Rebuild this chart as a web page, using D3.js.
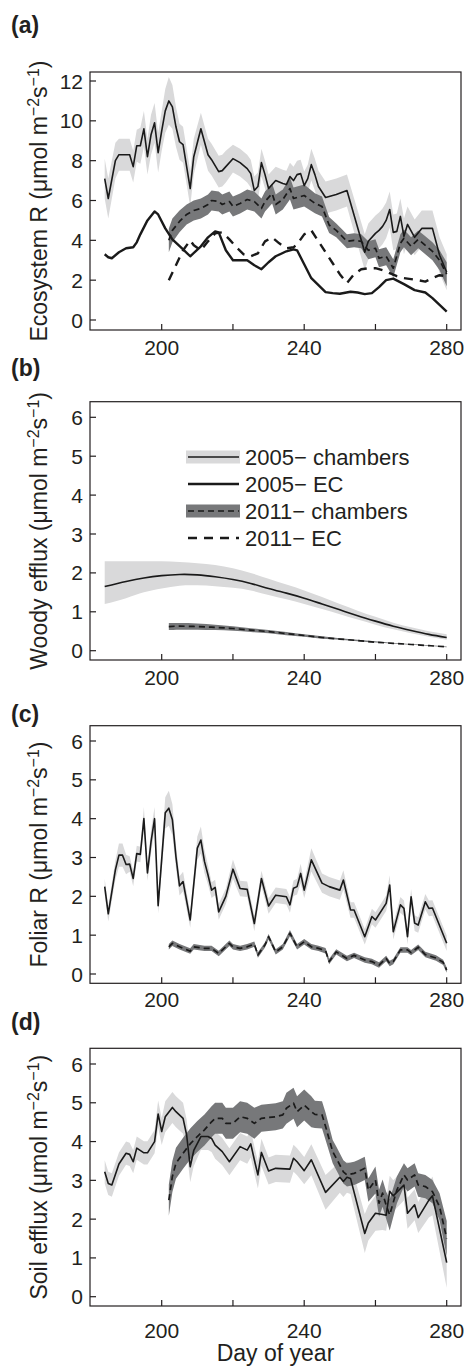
<!DOCTYPE html>
<html>
<head>
<script src="https://d3js.org/d3.v7.min.js"></script>
<style>
  body { margin: 0; background: #fff; }
  svg text { font-family: "Liberation Sans", Arial, Helvetica, sans-serif; fill: #231f20; }
</style>
</head>
<body>
<svg id="chart" width="467" height="1367"></svg>
<script>
// ---- data: [day, mean, half-width] or [day, mean, low, high] ----
const xTicks = [200, 220, 240, 260, 280];
const xTickLabels = ['200', '', '240', '', '280'];
const ecoTicks = [0, 2, 4, 6, 8, 10, 12];
const fluxTicks = [0, 1, 2, 3, 4, 5, 6];
const legendLabels = ['2005\u2212 chambers', '2005\u2212 EC', '2011\u2212 chambers', '2011\u2212 EC'];

// (a) ecosystem respiration
const ecoCh05 = [[184,7.1,1.0],[185,6.1,1.0],[187,8.0,0.9],[188,8.3,0.8],[189,8.3,0.8],[191,8.3,0.8],[192,7.7,0.8],
  [193,8.75,0.8],[194,8.75,0.9],[195,9.6,0.9],[196,8.2,0.9],[197,9.3,1.0],[198,9.9,1.0],[199,8.4,1.0],[200,9.5,1.0],
  [201,10.5,1.1],[202,11.0,1.2],[203,10.7,1.1],[204,9.7,1.0],[205,8.95,0.9],[206,8.8,0.9],[207,7.7,0.9],[208,6.6,0.9],
  [209,8.2,0.9],[211,9.6,0.8],[212,8.95,0.8],[213,8.3,0.8],[214,8.05,0.8],[216,7.45,0.8],[217,7.5,0.8],[218,7.7,0.8],
  [220,8.1,0.7],[221,8.0,0.7],[222,7.9,0.7],[224,7.6,0.7],[225,7.35,0.7],[226,6.5,0.7],[227,6.7,0.7],[228,7.9,0.7],
  [229,7.3,0.7],[230,6.6,0.7],[232,7.0,0.7],[234,6.85,0.7],[235,6.8,0.7],[236,7.2,0.7],[237,7.0,0.7],[238,7.3,0.7],
  [239,7.35,0.7],[240,6.75,0.7],[241,7.1,0.7],[242,7.8,0.8],[243,7.3,0.8],[244,6.7,0.8],[246,6.15,0.8],[249,6.3,0.8],
  [252,6.5,0.8],[257,3.4,0.9],[258,3.95,0.9],[260,4.35,0.9],[261,4.5,0.9],[262,4.7,0.9],[263,5.0,0.9],[264,5.55,0.9],
  [265,4.4,0.9],[266,4.45,0.9],[267,5.2,0.9],[268,4.2,0.9],[269,4.8,0.9],[271,4.15,0.9],[273,4.6,0.9],[276,4.6,0.9],
  [278,3.25,0.9],[280,2.4,0.9]];
const ecoEC05 = [[184,3.3],[185,3.15],[186,3.1],[188,3.4],[190,3.6],[192,3.65],[193,3.9],[194,4.3],[196,5.0],[198,5.45],
  [199,5.3],[201,4.6],[203,4.05],[206,3.55],[208,3.2],[211,3.7],[213,4.15],[215,4.45],[216,4.4],[218,3.5],[220,3.0],
  [224,3.0],[226,2.75],[228,2.55],[230,2.9],[232,3.2],[235,3.45],[237,3.55],[238,3.5],[240,2.8],[242,2.1],[244,1.75],
  [246,1.4],[248,1.35],[250,1.32],[253,1.42],[255,1.38],[257,1.3],[259,1.35],[261,1.65],[263,2.0],[265,2.08],[268,1.8],
  [271,1.5],[274,1.38],[276,1.1],[280,0.42]];
const ecoCh11 = [[202,4.0,0.6],[203,4.5,0.6],[205,4.95,0.55],[207,5.3,0.5],[209,5.5,0.5],[211,5.6,0.5],[213,5.8,0.5],
  [214,6.0,0.5],[216,5.95,0.5],[217,5.8,0.5],[219,5.95,0.5],[220,5.7,0.5],[222,5.85,0.5],[224,6.05,0.5],[226,5.95,0.5],
  [228,5.6,0.5],[229,5.95,0.5],[231,6.35,0.5],[232,5.8,0.5],[234,6.05,0.5],[236,6.6,0.55],[237,6.1,0.55],[240,6.25,0.55],
  [243,5.86,0.5],[245,5.7,0.5],[247,4.77,0.4],[249,4.5,0.35],[252,3.95,0.35],[254,4.0,0.35],[256,3.95,0.35],[258,3.5,0.45],
  [260,3.6,0.45],[261,3.1,0.45],[263,3.2,0.45],[265,2.6,0.45],[267,3.85,0.45],[268,4.1,0.45],[270,3.7,0.45],[272,4.05,0.45],
  [274,3.75,0.45],[276,3.45,0.45],[278,3.0,0.5],[280,2.3,0.6]];
const ecoEC11 = [[202,2.0],[204,2.75],[206,3.5],[208,4.0],[209,3.75],[211,3.5],[213,3.95],[215,4.35],[217,4.4],[219,4.05],
  [221,3.65],[223,3.3],[225,3.2],[227,3.35],[229,3.95],[231,4.15],[233,3.85],[235,3.6],[237,3.65],[238,3.8],[240,4.3],
  [242,4.5],[244,3.95],[246,3.4],[248,2.85],[250,2.3],[252,1.85],[254,2.3],[256,2.55],[258,2.6],[260,2.6],[262,2.5],
  [264,2.35],[266,2.2],[268,2.1],[270,2.05],[272,2.0],[274,1.93],[276,2.1],[278,2.25],[280,2.2]];

// (b) woody efflux (modelled, smooth)
const woodCh05 = [[184,1.65,1.2,2.3],[190,1.78,1.35,2.3],[195,1.87,1.5,2.3],[200,1.93,1.6,2.3],[205,1.96,1.67,2.28],
  [210,1.95,1.68,2.25],[215,1.9,1.66,2.2],[220,1.83,1.62,2.12],[225,1.73,1.55,2.0],[230,1.6,1.43,1.85],[235,1.48,1.32,1.7],
  [240,1.35,1.2,1.55],[245,1.2,1.07,1.38],[250,1.05,0.94,1.2],[255,0.9,0.8,1.03],[260,0.76,0.67,0.87],[265,0.63,0.55,0.72],
  [270,0.52,0.45,0.6],[275,0.42,0.36,0.5],[280,0.34,0.28,0.42]];
const woodCh11 = [[202,0.62,0.53,0.71],[205,0.63,0.54,0.71],[210,0.62,0.54,0.7],[215,0.6,0.53,0.67],[220,0.57,0.51,0.63],
  [225,0.53,0.48,0.58],[230,0.49,0.45,0.53],[235,0.44,0.4,0.48],[240,0.39,0.36,0.42],[245,0.34,0.31,0.37],[250,0.3,0.28,0.32],
  [255,0.26,0.24,0.28],[260,0.22,0.21,0.24],[265,0.19,0.18,0.2],[270,0.16,0.15,0.17],[275,0.13,0.12,0.14],[280,0.1,0.09,0.11]];

// (c) foliar respiration
const folCh05 = [[184,2.25,0.2],[185,1.55,0.2],[187,2.68,0.25],[188,3.06,0.3],[189,3.06,0.3],[190,2.82,0.25],[191,2.83,0.2],
  [192,2.46,0.2],[193,3.1,0.2],[194,3.08,0.2],[195,4.0,0.3],[196,2.6,0.2],[197,3.4,0.3],[198,4.0,0.3],[199,1.76,0.2],
  [201,4.15,0.4],[202,4.27,0.45],[203,3.97,0.4],[204,3.02,0.3],[205,2.27,0.25],[206,2.38,0.25],[208,1.39,0.2],[210,3.24,0.3],
  [211,3.45,0.35],[212,2.9,0.3],[213,2.55,0.25],[214,2.16,0.2],[215,2.23,0.2],[216,1.6,0.2],[218,2.0,0.2],[220,2.7,0.25],
  [222,2.2,0.2],[224,2.18,0.2],[226,1.3,0.2],[228,2.46,0.2],[230,1.75,0.2],[232,2.03,0.2],[235,1.99,0.2],[236,1.78,0.2],
  [237,2.21,0.2],[238,2.25,0.2],[239,2.59,0.25],[240,2.16,0.2],[242,2.94,0.3],[245,2.34,0.25],[247,2.25,0.25],[250,2.16,0.25],
  [251,2.42,0.25],[253,1.65,0.2],[254,1.65,0.2],[257,0.96,0.2],[259,1.48,0.2],[260,1.39,0.2],[263,1.82,0.2],[264,2.29,0.25],
  [265,1.09,0.2],[267,1.78,0.2],[268,1.69,0.2],[269,0.96,0.2],[270,1.99,0.2],[271,1.31,0.2],[272,1.26,0.2],[274,1.86,0.2],
  [275,1.69,0.2],[276,1.7,0.2],[280,0.79,0.2]];
const folCh11 = [[202,0.7,0.07],[203,0.79,0.07],[205,0.7,0.07],[208,0.59,0.07],[209,0.7,0.07],[212,0.66,0.07],[214,0.66,0.07],
  [216,0.53,0.07],[219,0.79,0.07],[220,0.7,0.07],[222,0.66,0.07],[224,0.7,0.07],[226,0.77,0.07],[227,0.49,0.07],[229,0.75,0.07],
  [230,0.96,0.07],[232,0.57,0.07],[234,0.7,0.07],[236,1.05,0.08],[238,0.7,0.07],[240,0.83,0.07],[242,0.7,0.07],[244,0.66,0.07],
  [246,0.6,0.07],[247,0.32,0.07],[249,0.57,0.07],[252,0.4,0.07],[254,0.48,0.07],[257,0.36,0.07],[259,0.32,0.07],[261,0.23,0.07],
  [263,0.4,0.07],[264,0.27,0.07],[265,0.32,0.07],[267,0.62,0.07],[269,0.62,0.07],[270,0.55,0.07],[272,0.69,0.07],
  [274,0.5,0.07],[277,0.41,0.07],[279,0.3,0.07],[280,0.1,0.07]];

// (d) soil efflux
const soilCh05 = [[184,3.22,0.3],[185,2.92,0.3],[186,2.88,0.3],[188,3.42,0.3],[190,3.7,0.3],[191,3.67,0.3],[192,3.48,0.3],
  [193,3.83,0.3],[195,3.71,0.3],[196,3.71,0.3],[198,4.0,0.3],[199,4.71,0.35],[200,4.26,0.35],[201,4.64,0.4],[203,4.88,0.4],
  [204,4.77,0.4],[206,4.6,0.4],[207,4.17,0.4],[208,3.35,0.4],[209,3.77,0.4],[211,4.13,0.35],[213,4.13,0.35],[214,4.08,0.35],
  [215,3.91,0.35],[217,3.74,0.35],[219,3.48,0.35],[222,3.87,0.35],[224,3.78,0.35],[225,3.94,0.35],[226,3.53,0.35],
  [227,3.14,0.35],[228,3.72,0.35],[230,3.24,0.35],[232,3.31,0.35],[236,3.29,0.35],[237,3.57,0.35],[238,3.48,0.35],
  [240,3.25,0.35],[242,3.53,0.4],[246,2.69,0.45],[250,3.08,0.4],[251,2.97,0.4],[252,3.08,0.4],[253,3.05,0.4],[257,1.63,0.5],
  [258,1.9,0.45],[260,2.15,0.45],[262,2.12,0.4],[263,2.1,0.4],[264,2.72,0.4],[265,2.6,0.4],[268,2.88,0.4],[269,2.15,0.4],
  [271,2.37,0.4],[272,2.04,0.4],[275,2.49,0.45],[276,2.6,0.5],[280,0.88,0.65]];
const soilCh11 = [[202,2.49,0.4],[203,3.1,0.4],[204,3.44,0.4],[206,3.7,0.4],[208,3.94,0.4],[210,4.13,0.4],[212,4.3,0.4],
  [214,4.51,0.4],[215,4.6,0.4],[217,4.6,0.4],[218,4.47,0.4],[220,4.47,0.4],[222,4.64,0.4],[224,4.6,0.4],[226,4.47,0.4],
  [228,4.6,0.35],[230,4.62,0.35],[232,4.64,0.35],[234,4.69,0.35],[235,4.86,0.4],[237,4.99,0.4],[238,4.77,0.4],[240,4.94,0.4],
  [242,4.77,0.4],[243,4.7,0.35],[245,4.69,0.35],[246,4.39,0.35],[248,3.74,0.3],[249,3.57,0.3],[251,3.22,0.3],[252,3.14,0.3],
  [254,3.18,0.3],[255,3.22,0.3],[257,3.31,0.3],[258,2.75,0.3],[260,3.01,0.35],[261,2.41,0.35],[262,2.67,0.35],[263,2.36,0.35],
  [264,2.11,0.4],[266,2.75,0.35],[268,3.14,0.3],[269,3.01,0.3],[271,3.14,0.3],[272,2.88,0.3],[274,2.84,0.3],[276,2.71,0.3],
  [278,2.32,0.35],[280,1.5,0.45]];

// ---- drawing ----
const svg = d3.select('#chart');
const LIGHT = '#d9d9da', DARK = '#77787a', INK = '#231f20';
const boxLeft = 90, boxRight = 461;
const x = d3.scaleLinear().domain([200, 280]).range([161.7, 446.7]);

const lo = d => d.length === 4 ? d[2] : d[1] - d[2];
const hi = d => d.length === 4 ? d[3] : d[1] + d[2];

function drawBand(g, y, data, fill, curve) {
  g.append('path')
    .datum(data)
    .attr('fill', fill)
    .attr('d', d3.area().curve(curve).x(d => x(d[0])).y0(d => y(lo(d))).y1(d => y(hi(d))));
}

function drawLine(g, y, data, width, dash, curve) {
  g.append('path')
    .datum(data)
    .attr('fill', 'none')
    .attr('stroke', '#1a1a1a')
    .attr('stroke-width', width)
    .attr('stroke-dasharray', dash)
    .attr('stroke-linejoin', 'round')
    .attr('d', d3.line().curve(curve).x(d => x(d[0])).y(d => y(d[1])));
}

const panels = [
  { tag: '(a)', tagY: 33, top: 72, bottom: 330, zeroY: 320, maxVal: 12, maxY: 81, ticks: ecoTicks,
    title: 'Ecosystem R', labelY: 355, curve: d3.curveLinear,
    ch05: ecoCh05, ec05: ecoEC05, ch11: ecoCh11, ec11: ecoEC11 },
  { tag: '(b)', tagY: 376, top: 401.7, bottom: 660, zeroY: 650.7, maxVal: 6, maxY: 417.3, ticks: fluxTicks,
    title: 'Woody efflux', labelY: 685, curve: d3.curveNatural,
    ch05: woodCh05, ch11: woodCh11, legend: true },
  { tag: '(c)', tagY: 722, top: 725.7, bottom: 983.3, zeroY: 974, maxVal: 6, maxY: 741, ticks: fluxTicks,
    title: 'Foliar R', labelY: 1007, curve: d3.curveLinear,
    ch05: folCh05, ch11: folCh11 },
  { tag: '(d)', tagY: 1030, top: 1048.3, bottom: 1306, zeroY: 1296.7, maxVal: 6, maxY: 1064, ticks: fluxTicks,
    title: 'Soil efflux', labelY: 1338, curve: d3.curveLinear,
    ch05: soilCh05, ch11: soilCh11 }
];

panels.forEach(p => {
  const y = d3.scaleLinear().domain([0, p.maxVal]).range([p.zeroY, p.maxY]);
  const g = svg.append('g');

  // bands then lines
  drawBand(g, y, p.ch05, LIGHT, p.curve);
  drawBand(g, y, p.ch11, DARK, p.curve);
  if (p.ec05) drawLine(g, y, p.ec05, 2.4, null, p.curve);
  if (p.ec11) drawLine(g, y, p.ec11, 2.4, '9,7', p.curve);
  drawLine(g, y, p.ch05, 1.6, null, p.curve);
  drawLine(g, y, p.ch11, 1.7, '6,4', p.curve);

  // frame
  g.append('rect')
    .attr('x', boxLeft).attr('y', p.top)
    .attr('width', boxRight - boxLeft).attr('height', p.bottom - p.top)
    .attr('fill', 'none').attr('stroke', INK).attr('stroke-width', 1.2);

  // y ticks (inward)
  p.ticks.forEach(t => {
    g.append('line').attr('x1', boxLeft).attr('x2', boxLeft + 6)
      .attr('y1', y(t)).attr('y2', y(t)).attr('stroke', INK).attr('stroke-width', 1.2);
    g.append('text').attr('x', 83).attr('y', y(t)).attr('dy', '0.36em')
      .attr('text-anchor', 'end').style('font-size', '21px').text(t);
  });

  // x ticks (inward)
  xTicks.forEach((t, i) => {
    g.append('line').attr('x1', x(t)).attr('x2', x(t))
      .attr('y1', p.bottom).attr('y2', p.bottom - 6).attr('stroke', INK).attr('stroke-width', 1.2);
    if (xTickLabels[i]) {
      g.append('text').attr('x', x(t)).attr('y', p.labelY)
        .attr('text-anchor', 'middle').style('font-size', '21px').text(xTickLabels[i]);
    }
  });

  // panel tag
  g.append('text').attr('x', 11).attr('y', p.tagY)
    .style('font-size', '23px').style('font-weight', 'bold').text(p.tag);

  // y title with superscripts
  const cy = (p.top + p.bottom) / 2;
  const title = g.append('text')
    .attr('transform', `translate(47,${cy}) rotate(-90)`)
    .attr('text-anchor', 'middle')
    .style('font-size', '23px');
  title.append('tspan').text(p.title + ' (\u03bcmol m');
  title.append('tspan').attr('dy', -8).style('font-size', '16px').text('\u22122');
  title.append('tspan').attr('dy', 8).text('s');
  title.append('tspan').attr('dy', -8).style('font-size', '16px').text('\u22121');
  title.append('tspan').attr('dy', 8).text(')');

  // legend in panel b
  if (p.legend) {
    const styles = [
      { band: LIGHT, w: 1.6, dash: null },
      { band: null, w: 2.4, dash: null },
      { band: DARK, w: 1.7, dash: '6,4' },
      { band: null, w: 2.4, dash: '9,7' }
    ];
    legendLabels.forEach((lab, i) => {
      const ly = 457 + i * 27;
      const s = styles[i];
      if (s.band) {
        g.append('rect').attr('x', 186).attr('y', ly - 6.5).attr('width', 54).attr('height', 13).attr('fill', s.band);
      }
      g.append('line').attr('x1', 188).attr('x2', 239).attr('y1', ly).attr('y2', ly)
        .attr('stroke', '#1a1a1a').attr('stroke-width', s.w).attr('stroke-dasharray', s.dash);
      g.append('text').attr('x', 245).attr('y', ly).attr('dy', '0.36em')
        .style('font-size', '22px').text(lab);
    });
  }
});

// x axis title
svg.append('text').attr('x', (boxLeft + boxRight) / 2).attr('y', 1361)
  .attr('text-anchor', 'middle').style('font-size', '23px').text('Day of year');
</script>
</body>
</html>
